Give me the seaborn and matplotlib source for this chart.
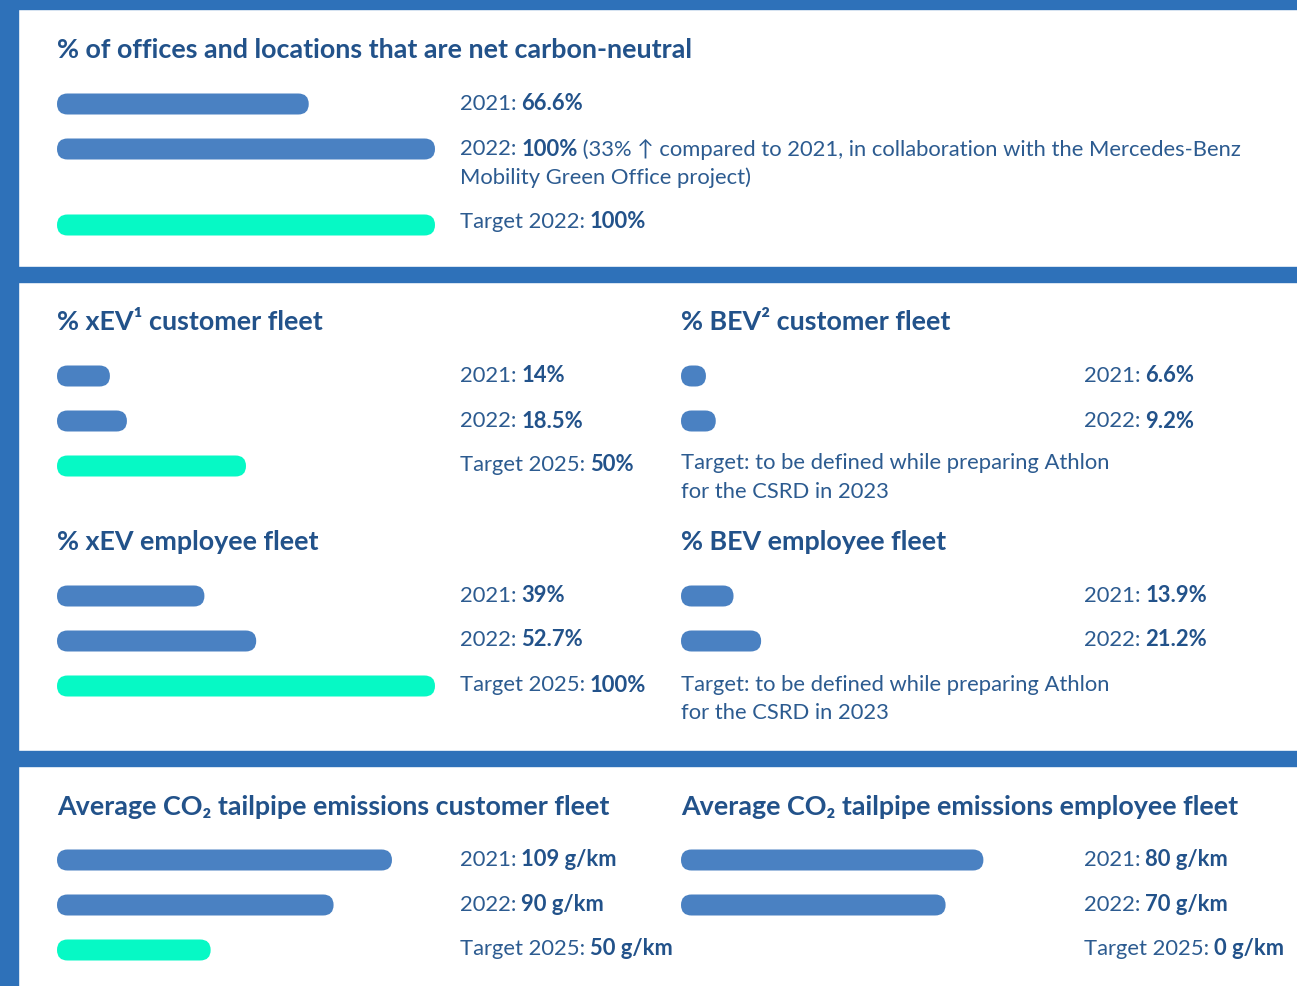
import numpy as np
import pandas as pd
import matplotlib.pyplot as plt
import seaborn as sns
from matplotlib.patches import Rectangle, FancyBboxPatch

# data
office_labels = ['2021:', '2022:', 'Target 2022:']
office_values = [66.6, 100, 100]

xev_cust_labels = ['2021:', '2022:', 'Target 2025:']
xev_cust_values = [14, 18.5, 50]
bev_cust_labels = ['2021:', '2022:']
bev_cust_values = [6.6, 9.2]

xev_emp_labels = ['2021:', '2022:', 'Target 2025:']
xev_emp_values = [39, 52.7, 100]
bev_emp_labels = ['2021:', '2022:']
bev_emp_values = [13.9, 21.2]

co2_cust_labels = ['2021:', '2022:', 'Target 2025:']
co2_cust_values = [109, 90, 50]
co2_emp_labels = ['2021:', '2022:', 'Target 2025:']
co2_emp_values = [80, 70, 0]

bev_target_note = ['Target: to be defined while preparing Athlon', 'for the CSRD in 2023']
office_note = [' (33% \u2191 compared to 2021, in collaboration with the Mercedes-Benz',
               'Mobility Green Office project)']

# style
FRAME = '#2e71b9'
BAR = '#4a81c2'
TEAL = '#06f9c5'
TXT = '#2c5b90'
TXT_B = '#22528a'

W, H = 1297, 987
BAR_W = 378     # px for full scale
BAR_H = 21
BODY = 15.8
TITLE = 19.4

sns.set_theme(style='white')
plt.rcParams['font.family'] = ['Lato', 'DejaVu Sans']

fig = plt.figure(figsize=(W / 100, H / 100), dpi=100)
fig.patch.set_facecolor('white')
renderer = fig.canvas.get_renderer()

# blue frame
for x0, y0, w, h in [(0, 0, 18, H), (0, 0, W, 10), (0, 268, W, 15), (0, 752, W, 15)]:
    fig.patches.append(Rectangle((x0 / W, 1 - (y0 + h) / H), w / W, h / H,
                                 transform=fig.transFigure, color=FRAME, zorder=0))


def fy(y):
    return 1 - y / H


def rich(x, y, parts, size=BODY):
    # parts: list of (text, bold); y is the vertical centre in px from top
    for text, bold in parts:
        t = fig.text(x / W, fy(y), text, fontsize=size, va='center',
                     color=TXT_B if bold else TXT,
                     fontweight='bold' if bold else 'normal')
        bb = t.get_window_extent(renderer)
        x = bb.x1 + 0.3 * size
    return t


def title(x, y, text):
    fig.text(x / W, fy(y), text, fontsize=TITLE, fontweight='bold',
             color=TXT_B, va='center')


def panel(values, rows, xmax, left):
    top, bottom = rows[0] - 20, rows[-1] + 20
    ax = fig.add_axes([left / W, fy(bottom), BAR_W / W, (bottom - top) / H])
    kinds = ['year', 'year', 'target'][:len(values)]
    df = pd.DataFrame({'value': values, 'row': rows, 'kind': kinds})
    sns.barplot(data=df, x='value', y='row', hue='kind', orient='y',
                palette={'year': BAR, 'target': TEAL}, native_scale=True,
                saturation=1, dodge=False, errorbar=None, legend=False, ax=ax)
    ax.set_xlim(0, xmax)
    ax.set_ylim(bottom, top)
    ax.set_axis_off()
    # rounded caps
    xu = xmax / BAR_W
    r = BAR_H / 2
    for p in list(ax.patches):
        w = p.get_width()
        yc = p.get_y() + p.get_height() / 2
        col = p.get_facecolor()
        p.remove()
        if w <= 0:
            continue
        ax.add_patch(FancyBboxPatch((0, yc - r), w, BAR_H,
                                    boxstyle=f'round,pad=0,rounding_size={r * xu}',
                                    mutation_aspect=1 / xu, facecolor=col,
                                    edgecolor='none'))
    return ax


def fmt_pct(v):
    return f'{v:g}%'


def fmt_co2(v):
    return f'{v:g} g/km'


# section 1
title(57, 50, '% of offices and locations that are net carbon-neutral')
panel(office_values, [105, 150, 226], 100, 57)
rich(460, 104, [(office_labels[0], False), (fmt_pct(office_values[0]), True)])
t = rich(460, 149, [(office_labels[1], False), (fmt_pct(office_values[1]), True)])
bb = t.get_window_extent(renderer)
fig.text(bb.x1 / W, fy(149), office_note[0], fontsize=BODY, color=TXT, va='center')
fig.text(460 / W, fy(178), office_note[1], fontsize=BODY, color=TXT, va='center')
rich(460, 222, [(office_labels[2], False), (fmt_pct(office_values[2]), True)])

# section 2
title(57, 322, '% xEV\u00b9 customer fleet')
title(681, 322, '% BEV\u00b2 customer fleet')
panel(xev_cust_values, [377, 422, 467], 100, 57)
for lab, v, y in zip(xev_cust_labels, xev_cust_values, [376, 421, 465]):
    rich(460, y, [(lab, False), (fmt_pct(v), True)])
panel(bev_cust_values, [377, 422], 100, 681)
for lab, v, y in zip(bev_cust_labels, bev_cust_values, [376, 421]):
    rich(1084, y, [(lab, False), (fmt_pct(v), True)])
for line, y in zip(bev_target_note, [463, 492]):
    fig.text(681 / W, fy(y), line, fontsize=BODY, color=TXT, va='center')

title(57, 542, '% xEV employee fleet')
title(681, 542, '% BEV employee fleet')
panel(xev_emp_values, [597, 642, 687], 100, 57)
for lab, v, y in zip(xev_emp_labels, xev_emp_values, [596, 640, 685]):
    rich(460, y, [(lab, False), (fmt_pct(v), True)])
panel(bev_emp_values, [597, 642], 100, 681)
for lab, v, y in zip(bev_emp_labels, bev_emp_values, [596, 640]):
    rich(1084, y, [(lab, False), (fmt_pct(v), True)])
for line, y in zip(bev_target_note, [685, 713]):
    fig.text(681 / W, fy(y), line, fontsize=BODY, color=TXT, va='center')

# section 3
title(57, 807, 'Average CO\u2082 tailpipe emissions customer fleet')
title(681, 807, 'Average CO\u2082 tailpipe emissions employee fleet')
panel(co2_cust_values, [861, 906, 951], 123, 57)
for lab, v, y in zip(co2_cust_labels, co2_cust_values, [860, 905, 949]):
    rich(460, y, [(lab, False), (fmt_co2(v), True)])
panel(co2_emp_values, [861, 906, 951], 100, 681)
for lab, v, y in zip(co2_emp_labels, co2_emp_values, [860, 905, 949]):
    rich(1084, y, [(lab, False), (fmt_co2(v), True)])

fig.savefig('out.png', dpi=100)
